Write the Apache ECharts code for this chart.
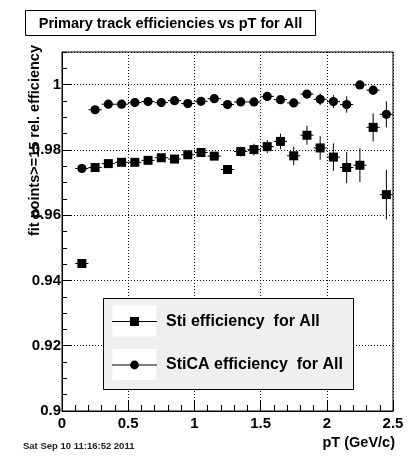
<!DOCTYPE html>
<html>
<head>
<meta charset="utf-8">
<script src="https://cdn.jsdelivr.net/npm/echarts@6/dist/echarts.min.js"></script>
<style>
  html, body { margin: 0; padding: 0; background: #fff; }
  #chart { width: 419px; height: 456px; }
</style>
</head>
<body>
<div id="chart"></div>
<script>
"use strict";
// bin centres (GeV/c)
var ptBins = [0.15, 0.25, 0.35, 0.45, 0.55, 0.65, 0.75, 0.85, 0.95, 1.05, 1.15, 1.25,
              1.35, 1.45, 1.55, 1.65, 1.75, 1.85, 1.95, 2.05, 2.15, 2.25, 2.35, 2.45];
var binHalfWidth = 0.05;
// Sti efficiency
var stiEff = [0.9452, 0.9746, 0.9758, 0.9762, 0.9762, 0.9768, 0.9776, 0.9772, 0.9785, 0.9792, 0.9781, 0.9740,
              0.9795, 0.9801, 0.9810, 0.9826, 0.9782, 0.9845, 0.9806, 0.9778, 0.9746, 0.9753, 0.9869, 0.9663];
var stiErr = [0.0004, 0.0004, 0.0004, 0.0005, 0.0005, 0.0005, 0.0006, 0.0006, 0.0007, 0.0008, 0.0009, 0.0010,
              0.0015, 0.0018, 0.0020, 0.0024, 0.0028, 0.0029, 0.0036, 0.0042, 0.0048, 0.0052, 0.0043, 0.0076];
// StiCA efficiency
var sticaEff = [0.9743, 0.9923, 0.9940, 0.9940, 0.9945, 0.9948, 0.9945, 0.9951, 0.9942, 0.9949, 0.9957, 0.9939,
                0.9947, 0.9947, 0.9964, 0.9954, 0.9944, 0.9971, 0.9955, 0.9948, 0.9939, 0.9999, 0.9983, 0.9909];
var sticaErr = [0.0003, 0.0003, 0.0003, 0.0003, 0.0003, 0.0003, 0.0004, 0.0004, 0.0004, 0.0005, 0.0005, 0.0006,
                0.0006, 0.0007, 0.0008, 0.0010, 0.0013, 0.0012, 0.0018, 0.0020, 0.0025, 0.0010, 0.0014, 0.0040];
var legendNames = ['Sti efficiency  for All', 'StiCA efficiency  for All'];
var titleText = 'Primary track efficiencies vs pT for All';
var xTitle = 'pT (GeV/c)';
var yTitle = 'fit points>=15 rel. efficiency';
var dateText = 'Sat Sep 10 11:16:52 2011';

var FONT = '"Liberation Sans", Arial, Helvetica, sans-serif';

function toRows(xs, ys, es) {
    return xs.map(function (x, i) { return [x, ys[i], es[i]]; });
}

//误差棒 + 标记
function errRender(shape) {
    return function (params, api) {
        var x = api.value(0), y = api.value(1), e = api.value(2);
        var p = api.coord([x, y]);
        var l = api.coord([x - binHalfWidth, y]);
        var r = api.coord([x + binHalfWidth, y]);
        var lo = api.coord([x, y - e]);
        var hi = api.coord([x, y + e]);
        var st = { stroke: '#000', lineWidth: 1 };
        var marker = shape === 'square'
            ? { type: 'rect', shape: { x: p[0] - 4.5, y: p[1] - 4.5, width: 9, height: 9 }, style: { fill: '#000' } }
            : { type: 'circle', shape: { cx: p[0], cy: p[1], r: 4.6 }, style: { fill: '#000' } };
        return {
            type: 'group',
            children: [
                { type: 'line', shape: { x1: l[0], y1: l[1], x2: r[0], y2: r[1] }, style: st },
                { type: 'line', shape: { x1: lo[0], y1: lo[1], x2: hi[0], y2: hi[1] }, style: st },
                marker
            ]
        };
    };
}

var myChart = echarts.init(document.getElementById('chart'));

var legendX = 103, legendY = 298, legendW = 250, legendH = 91;
function legendEntry(i, shape) {
    var cy = i === 0 ? 321.5 : 365;
    return [
        { type: 'rect', shape: { x: 112.5, y: cy - 16, width: 44, height: 31 }, style: { fill: '#fff' }, z: 101 },
        { type: 'line', shape: { x1: 112, y1: cy, x2: 157, y2: cy }, style: { stroke: '#000', lineWidth: 1 }, z: 102 },
        shape === 'square'
            ? { type: 'rect', shape: { x: 130, y: cy - 4.5, width: 9, height: 9 }, style: { fill: '#000' }, z: 103 }
            : { type: 'circle', shape: { cx: 134.5, cy: cy, r: 4.4 }, style: { fill: '#000' }, z: 103 },
        { type: 'text', x: 166, y: cy, z: 103,
          style: { text: legendNames[i], font: 'bold 16px ' + FONT, fill: '#000', verticalAlign: 'middle' } }
    ];
}

var option = {
    animation: false,
    backgroundColor: '#fff',
    grid: { left: 62, top: 52, width: 331, height: 359, show: true, borderColor: '#000', borderWidth: 1 },
    xAxis: {
        type: 'value', min: 0, max: 2.5, interval: 0.5,
        axisLine: { show: true, lineStyle: { color: '#000', width: 1 } },
        axisTick: { show: true, inside: true, length: 11, lineStyle: { color: '#000' } },
        minorTick: { show: true, splitNumber: 5, length: 6, lineStyle: { color: '#000' } },
        axisLabel: { color: '#000', fontFamily: FONT, fontWeight: 'bold', fontSize: 15, margin: 5,
                     formatter: function (v) { return String(+v.toFixed(2)); } },
        splitLine: { show: true, lineStyle: { color: '#000', type: [1, 2], width: 1 } }
    },
    yAxis: [{
        type: 'value', min: 0.9, max: 1.01, interval: 0.02,
        axisLine: { show: true, lineStyle: { color: '#000', width: 1 } },
        axisTick: { show: true, inside: true, length: 9, lineStyle: { color: '#000' } },
        axisLabel: { color: '#000', fontFamily: FONT, fontWeight: 'bold', fontSize: 15, margin: 1,
                     showMaxLabel: false,
                     formatter: function (v) { return String(+v.toFixed(2)); } },
        splitLine: { show: true, lineStyle: { color: '#000', type: [1, 2], width: 1 } }
    }, {
        type: 'value', min: 0.9, max: 1.01, interval: 0.005, position: 'left', offset: 0,
        axisLine: { show: false },
        axisTick: { show: true, inside: true, length: 5, lineStyle: { color: '#000' } },
        axisLabel: { show: false },
        splitLine: { show: false }
    }],
    series: [{
        name: legendNames[0], type: 'custom', yAxisIndex: 0,
        renderItem: errRender('square'),
        encode: { x: 0, y: 1 },
        data: toRows(ptBins, stiEff, stiErr), z: 5
    }, {
        name: legendNames[1], type: 'custom', yAxisIndex: 0,
        renderItem: errRender('circle'),
        encode: { x: 0, y: 1 },
        data: toRows(ptBins, sticaEff, sticaErr), z: 6
    }],
    graphic: [
        { type: 'rect', shape: { x: 25.5, y: 10.5, width: 290, height: 25 },
          style: { fill: '#fff', stroke: '#000', lineWidth: 1 }, z: 100 },
        { type: 'text', x: 170.5, y: 23.5, z: 101,
          style: { text: titleText, font: 'bold 14.5px ' + FONT, fill: '#000', align: 'center', verticalAlign: 'middle' } },
        { type: 'text', x: 35, y: 45, rotation: Math.PI / 2, z: 101,
          style: { text: yTitle, font: 'bold 14.5px ' + FONT, fill: '#000', align: 'right', verticalAlign: 'middle' } },
        { type: 'text', x: 395, y: 443, z: 101,
          style: { text: xTitle, font: 'bold 14.5px ' + FONT, fill: '#000', align: 'right', verticalAlign: 'middle' } },
        { type: 'text', x: 23, y: 446, z: 101,
          style: { text: dateText, font: 'bold 9.5px ' + FONT, fill: '#222', align: 'left', verticalAlign: 'middle' } },
        { type: 'rect', shape: { x: legendX + 0.5, y: legendY + 0.5, width: legendW, height: legendH },
          style: { fill: '#efefef', stroke: '#000', lineWidth: 1 }, z: 100 }
    ].concat(legendEntry(0, 'square'), legendEntry(1, 'circle'))
};
myChart.setOption(option);

window.onresize = function () {
    myChart.resize();
};
</script>
</body>
</html>
